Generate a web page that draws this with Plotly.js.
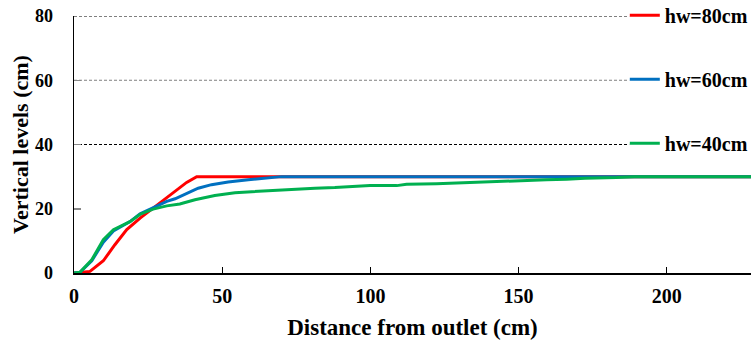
<!DOCTYPE html>
<html>
<head>
<meta charset="utf-8">
<script src="https://cdn.plot.ly/plotly-3.0.1.min.js"></script>
<style>
html,body{margin:0;padding:0;background:#fff;}
#chart{width:751px;height:344px;}
</style>
</head>
<body>
<div id="chart"></div>
<script>
// Data
const seriesNames = ["hw=80cm", "hw=60cm", "hw=40cm"];
const seriesColors = ["#FF0000", "#0070C0", "#00B050"];

const redX = [0, 5.4, 9.9, 13.8, 17.8, 22.3, 26.7, 32.4, 38.0, 41.4, 230];
const redY = [0, 0.5, 3.8, 8.8, 13.5, 17.1, 20.2, 24.3, 28.2, 30.0, 30.0];

const blueX = [0, 2, 6, 9.9, 13.3, 18.9, 22.3, 26.7, 31.3, 34.1, 37.4, 41.9, 46.4, 52.0, 58.8, 65.5, 70, 230];
const blueY = [0, 0.2, 3.8, 9.6, 13.1, 16.0, 18.4, 20.3, 22.3, 23.1, 24.6, 26.4, 27.5, 28.3, 29.0, 29.5, 30.0, 30.0];

const greenX = [0, 2, 6, 9.9, 13.3, 18.9, 22.3, 26.7, 31.3, 35.7, 40.8, 47.5, 54.3, 61.0, 67.8, 74.5, 81.3, 88.0, 93.1, 99.9, 108.9, 112.2, 122.3, 133.6, 142.6, 151.5, 159.4, 166.2, 172.4, 183.0, 189, 230];
const greenY = [0, 0.2, 4.1, 10.4, 13.5, 16.0, 18.3, 19.9, 20.9, 21.5, 22.8, 24.1, 25.0, 25.4, 25.8, 26.2, 26.4, 26.6, 26.8, 27.2, 27.2, 27.6, 27.8, 28.2, 28.6, 28.8, 29.0, 29.2, 29.5, 29.7, 30.0, 30.0];

const xTicks = [0, 50, 100, 150, 200];
const yTicks = [0, 20, 40, 60, 80];
const gridLevels = [40, 60, 80];
const gridColors = ["#000000", "#808080", "#000000"];

const xs = [redX, blueX, greenX];
const ys = [redY, blueY, greenY];

const FONT = "Liberation Serif";

const traces = seriesNames.map((n, i) => ({
  type: "scatter",
  mode: "lines",
  name: n,
  x: xs[i],
  y: ys[i],
  legendgroup: "g" + i,
  line: {color: seriesColors[i], width: 3}
}));

const shapes = gridLevels.map((lv, i) => ({
  type: "line", xref: "paper", yref: "y",
  x0: 0, x1: 0.82, y0: lv, y1: lv,
  layer: "below",
  line: {color: gridColors[i], width: 1, dash: "3px,2px"}
}));

const layout = {
  width: 751, height: 344,
  margin: {l: 74, r: 0, t: 16, b: 71, autoexpand: false},
  paper_bgcolor: "#fff", plot_bgcolor: "#fff",
  font: {family: FONT, weight: "bold", color: "#000"},
  showlegend: true,
  legend: {
    x: 0.8136, xanchor: "left", y: 1.079, yanchor: "top",
    bgcolor: "rgba(0,0,0,0)", borderwidth: 0,
    traceorder: "grouped", tracegroupgap: 35,
    font: {family: FONT, size: 20, color: "#000", weight: "bold"}
  },
  xaxis: {
    range: [0, 228.4],
    tickvals: xTicks, ticktext: xTicks.map(String),
    ticks: "inside", ticklen: 6, tickcolor: "#000", tickwidth: 1,
    showline: true, linecolor: "#000", linewidth: 1.5,
    showgrid: false, zeroline: false,
    ticklabelstandoff: 4,
    tickfont: {family: FONT, size: 20, color: "#000", weight: "bold"},
    title: {text: "Distance from outlet (cm)", standoff: 13,
            font: {family: FONT, size: 23, color: "#000", weight: "bold"}}
  },
  yaxis: {
    range: [0, 80],
    tickvals: yTicks, ticktext: yTicks.map(String),
    ticks: "inside", ticklen: 7, tickcolor: "#888", tickwidth: 1.5,
    showline: true, linecolor: "#000", linewidth: 1.5,
    showgrid: false, zeroline: false,
    ticklabelstandoff: 16,
    tickfont: {family: FONT, size: 18, color: "#000", weight: "bold"},
    title: {text: "Vertical levels (cm)", standoff: 0,
            font: {family: FONT, size: 22, color: "#000", weight: "bold"}}
  },
  shapes: shapes
};

Plotly.newPlot("chart", traces, layout, {displayModeBar: false, staticPlot: true});
</script>
</body>
</html>
